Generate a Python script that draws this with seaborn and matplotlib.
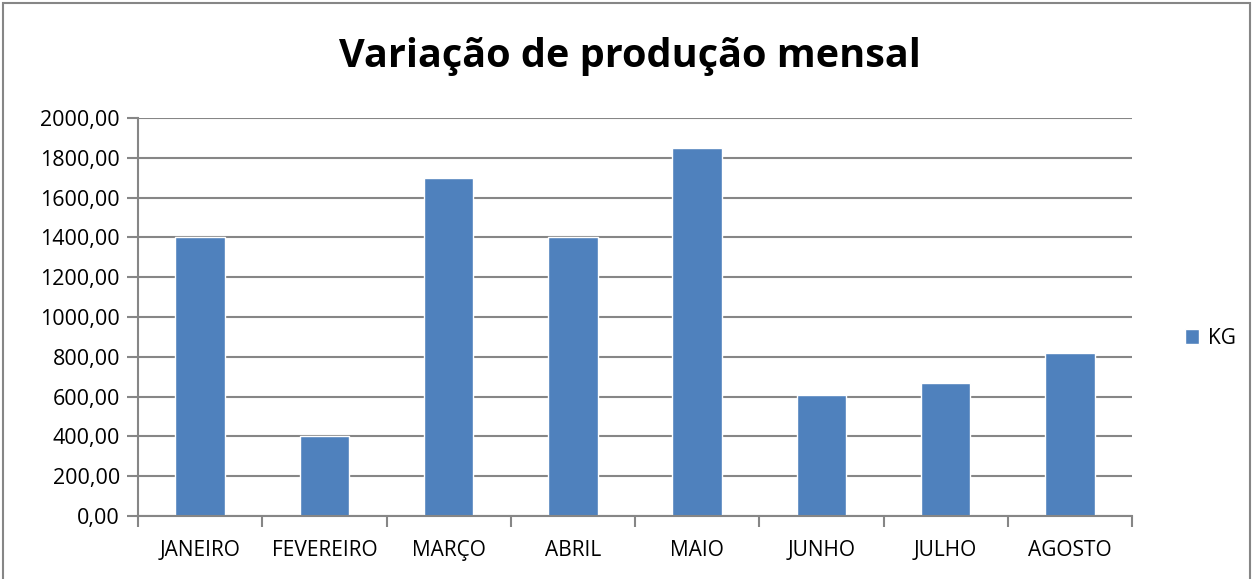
import matplotlib
matplotlib.use("Agg")
import matplotlib.pyplot as plt
import seaborn as sns
import pandas as pd
from matplotlib.patches import Rectangle
from matplotlib.ticker import FuncFormatter, MultipleLocator

months = ["JANEIRO", "FEVEREIRO", "MARÇO", "ABRIL", "MAIO", "JUNHO", "JULHO", "AGOSTO"]
kg = [1400, 400, 1700, 1400, 1850, 608, 667, 818]
series_name = "KG"
title = "Variação de produção mensal"

sns.set_style("white")
plt.rcParams['font.family'] = ['Open Sans', 'DejaVu Sans']
plt.rcParams['text.color'] = 'black'

df = pd.DataFrame({"mes": months, "kg": kg})

fig = plt.figure(figsize=(12.58, 5.79), dpi=100)
ax = fig.add_axes([138/1258, 1-516/579, (1132-138)/1258, (516-118)/579])

sns.barplot(data=df, x="mes", y="kg", color="#4F81BD", width=0.4, ax=ax,
            label=series_name, saturation=1)

ax.set_ylim(0, 2000)
ax.set_xlim(-0.5, len(months)-0.5)
ax.yaxis.set_major_locator(MultipleLocator(200))
ax.yaxis.set_major_formatter(FuncFormatter(lambda v, p: f"{v:.2f}".replace(".", ",")))
ax.grid(axis="y", color="#868686", linewidth=1.5)
ax.set_axisbelow(True)
for s in ["top", "right"]:
    ax.spines[s].set_visible(False)
for s in ["left", "bottom"]:
    ax.spines[s].set_color("#868686")
    ax.spines[s].set_linewidth(1.5)
ax.set_xlabel("")
ax.set_ylabel("")
ax.tick_params(axis="y", which="major", left=True, length=8, width=1.5, color="#868686",
               labelsize=15.5, labelcolor="black", pad=5)
ax.tick_params(axis="x", which="major", bottom=False, labelsize=15, labelcolor="black", pad=14)
ax.set_xticks(range(len(months)))
ax.set_xticks([i - 0.5 for i in range(len(months) + 1)], minor=True)
ax.tick_params(axis="x", which="minor", bottom=True, length=8, width=1.5, color="#868686")

fig.text(630/1258, 1-57/579, title, ha="center", va="center", fontsize=28.5,
         fontweight="bold", color="black")

leg = ax.legend(loc="center left", bbox_to_anchor=(1166/1258, 1-338/579),
                bbox_transform=fig.transFigure, frameon=False, fontsize=15,
                handlelength=0.7, handleheight=0.7, handletextpad=0.4)
for t in leg.get_texts():
    t.set_color("black")

fig.patches.append(Rectangle((3/1258, -0.01), 1247/1258, 1-3/579+0.01, transform=fig.transFigure,
                             fill=False, edgecolor="#868686", linewidth=1.5))

fig.savefig("out.png", dpi=100)
